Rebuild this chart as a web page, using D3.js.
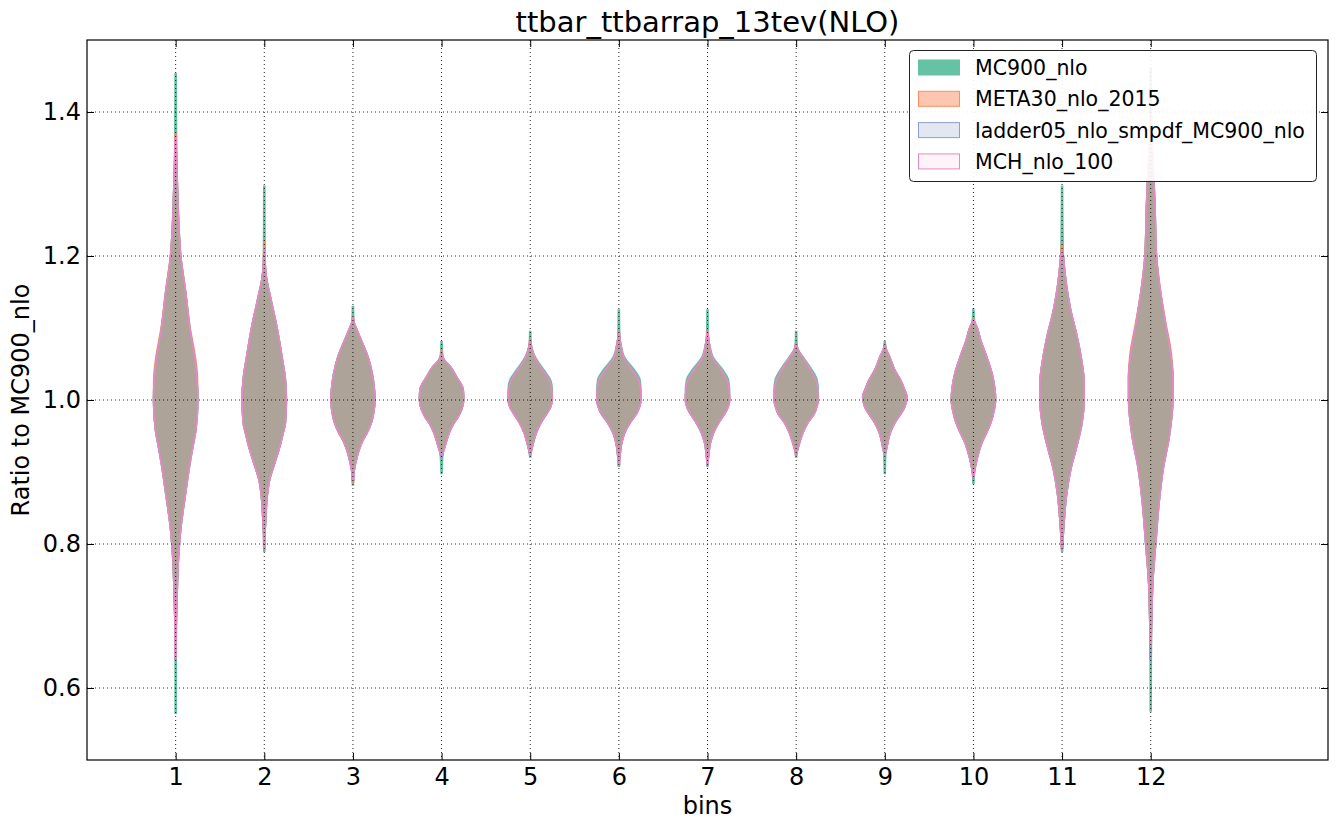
<!DOCTYPE html>
<html>
<head>
<meta charset="utf-8">
<script src="https://cdn.jsdelivr.net/npm/d3@7"></script>
<style>
  html, body { margin: 0; padding: 0; background: #fff; }
  svg { display: block; font-family: "DejaVu Sans", sans-serif; }
</style>
</head>
<body>
<svg id="chart" width="1337" height="830"></svg>
<script>
// ---------------- DATA ----------------
const title = "ttbar_ttbarrap_13tev(NLO)";
const xLabel = "bins";
const yLabel = "Ratio to MC900_nlo";
const bins = [1, 2, 3, 4, 5, 6, 7, 8, 9, 10, 11, 12];
const yTicks = [0.6, 0.8, 1.0, 1.2, 1.4];
const seriesNames = ["MC900_nlo", "META30_nlo_2015", "ladder05_nlo_smpdf_MC900_nlo", "MCH_nlo_100"];
const seriesColors = ["#66c2a5", "#fc8d62", "#8da0cb", "#e78ac3"];
const seriesFillAlpha = [1.0, 0.5, 0.25, 0.1];

// upper / lower extremes of each violin (per series, per bin)
const seriesMax = [
  [1.453, 1.297, 1.130, 1.081, 1.095, 1.125, 1.125, 1.095, 1.081, 1.126, 1.297, 1.461],
  [1.370, 1.220, 1.115, 1.068, 1.083, 1.095, 1.095, 1.078, 1.077, 1.112, 1.215, 1.400],
  [1.350, 1.200, 1.112, 1.065, 1.080, 1.090, 1.090, 1.076, 1.076, 1.111, 1.206, 1.380],
  [1.365, 1.210, 1.113, 1.062, 1.080, 1.093, 1.093, 1.076, 1.076, 1.111, 1.206, 1.375]
];
const seriesMin = [
  [0.565, 0.790, 0.882, 0.898, 0.921, 0.908, 0.908, 0.921, 0.898, 0.884, 0.790, 0.568],
  [0.640, 0.795, 0.886, 0.920, 0.925, 0.910, 0.912, 0.925, 0.925, 0.893, 0.794, 0.640],
  [0.640, 0.800, 0.888, 0.920, 0.925, 0.910, 0.912, 0.925, 0.925, 0.893, 0.794, 0.640],
  [0.642, 0.793, 0.889, 0.925, 0.925, 0.910, 0.910, 0.925, 0.925, 0.893, 0.794, 0.660]
];

// shared violin outline per bin: [value, relative half-width]
const binProfiles = [
  [[1.33,0.05],[1.28,0.1],[1.24,0.15],[1.2,0.23],[1.15,0.45],[1.1,0.64],[1.06,0.85],[1.03,0.96],[1.0,1.0],[0.96,0.92],[0.93,0.75],[0.91,0.64],[0.87,0.45],[0.82,0.23],[0.78,0.13],[0.72,0.06],[0.68,0.03]],
  [[1.19,0.04],[1.17,0.1],[1.14,0.3],[1.1,0.58],[1.06,0.8],[1.03,0.95],[1.0,1.0],[0.97,0.96],[0.95,0.82],[0.935,0.7],[0.91,0.45],[0.89,0.25],[0.865,0.13],[0.83,0.06],[0.81,0.03]],
  [[1.108,0.05],[1.1,0.15],[1.083,0.38],[1.06,0.68],[1.037,0.87],[1.015,0.97],[1.0,1.0],[0.985,0.95],[0.968,0.83],[0.955,0.65],[0.944,0.45],[0.93,0.27],[0.912,0.12],[0.9,0.05]],
  [[1.06,0.06],[1.055,0.14],[1.046,0.41],[1.032,0.68],[1.014,0.98],[1.0,1.0],[0.986,0.9],[0.975,0.72],[0.968,0.56],[0.954,0.34],[0.935,0.15],[0.927,0.07]],
  [[1.076,0.05],[1.07,0.09],[1.06,0.2],[1.042,0.55],[1.028,0.85],[1.012,0.98],[1.0,1.0],[0.99,0.92],[0.981,0.75],[0.968,0.48],[0.954,0.27],[0.94,0.14],[0.93,0.06]],
  [[1.085,0.05],[1.075,0.1],[1.06,0.2],[1.042,0.6],[1.028,0.9],[1.012,0.98],[1.0,1.0],[0.99,0.93],[0.981,0.8],[0.968,0.5],[0.954,0.26],[0.94,0.13],[0.925,0.06],[0.915,0.03]],
  [[1.085,0.05],[1.075,0.1],[1.06,0.21],[1.042,0.6],[1.028,0.88],[1.012,0.98],[1.0,1.0],[0.99,0.93],[0.981,0.78],[0.968,0.5],[0.954,0.27],[0.94,0.13],[0.925,0.06],[0.915,0.03]],
  [[1.074,0.04],[1.068,0.12],[1.06,0.28],[1.042,0.65],[1.028,0.88],[1.012,0.98],[1.0,1.0],[0.99,0.93],[0.981,0.82],[0.968,0.52],[0.954,0.3],[0.94,0.15],[0.93,0.06]],
  [[1.072,0.05],[1.06,0.22],[1.042,0.45],[1.028,0.71],[1.014,0.9],[1.005,1.0],[0.99,0.9],[0.981,0.73],[0.968,0.45],[0.954,0.24],[0.935,0.1],[0.928,0.05]],
  [[1.108,0.06],[1.102,0.15],[1.083,0.33],[1.06,0.6],[1.037,0.84],[1.015,0.97],[1.0,1.0],[0.985,0.93],[0.968,0.78],[0.955,0.6],[0.944,0.43],[0.93,0.27],[0.912,0.12],[0.9,0.05]],
  [[1.2,0.06],[1.18,0.12],[1.157,0.21],[1.125,0.39],[1.088,0.68],[1.056,0.88],[1.023,1.0],[1.0,1.0],[0.968,0.9],[0.935,0.66],[0.903,0.39],[0.87,0.21],[0.833,0.1],[0.81,0.05]],
  [[1.36,0.05],[1.33,0.1],[1.302,0.15],[1.273,0.19],[1.2,0.26],[1.157,0.41],[1.111,0.64],[1.065,0.89],[1.032,1.0],[1.0,1.0],[0.949,0.84],[0.903,0.56],[0.857,0.38],[0.8,0.23],[0.749,0.1],[0.7,0.05],[0.67,0.03]]
];

// series-specific outlines where they visibly differ from the shared one
const mc900Shoulders = {
  5: [[1.076,0.05],[1.07,0.1],[1.06,0.23],[1.042,0.62],[1.028,0.92],[1.015,1.0],[1.0,0.98],[0.99,0.91],[0.981,0.75],[0.968,0.48],[0.954,0.27],[0.94,0.14],[0.93,0.06]],
  6: [[1.085,0.05],[1.075,0.11],[1.06,0.25],[1.042,0.7],[1.028,0.96],[1.012,1.0],[1.0,0.97],[0.99,0.92],[0.981,0.8],[0.968,0.5],[0.954,0.26],[0.94,0.13],[0.925,0.06],[0.915,0.03]],
  7: [[1.085,0.05],[1.075,0.11],[1.06,0.25],[1.042,0.69],[1.028,0.95],[1.012,1.0],[1.0,0.97],[0.99,0.92],[0.981,0.78],[0.968,0.5],[0.954,0.27],[0.94,0.13],[0.925,0.06],[0.915,0.03]],
  8: [[1.074,0.05],[1.068,0.13],[1.06,0.31],[1.042,0.72],[1.028,0.95],[1.014,1.0],[1.0,0.97],[0.99,0.91],[0.981,0.82],[0.968,0.52],[0.954,0.3],[0.94,0.15],[0.93,0.06]]
};
const meta30Flat = {
  1: [[1.33,0.05],[1.28,0.1],[1.24,0.15],[1.2,0.24],[1.15,0.46],[1.1,0.66],[1.06,0.89],[1.03,0.99],[1.0,1.0],[0.96,0.92],[0.93,0.74],[0.91,0.62],[0.87,0.44],[0.82,0.23],[0.78,0.13],[0.72,0.06],[0.68,0.03]],
  12: [[1.36,0.05],[1.33,0.1],[1.302,0.15],[1.273,0.19],[1.2,0.27],[1.157,0.42],[1.111,0.66],[1.065,0.93],[1.032,1.0],[1.0,1.0],[0.949,0.82],[0.903,0.55],[0.857,0.37],[0.8,0.22],[0.749,0.1],[0.7,0.05],[0.67,0.03]]
};
const seriesOverrides = [mc900Shoulders, meta30Flat, {}, {}];
const tailWidth = 0.025;
const violinHalfWidth = 0.25;

// ---------------- LAYOUT ----------------
const svg = d3.select("#chart");
const L = 87, R = 1328, T = 40, B = 760;
const x = d3.scaleLinear().domain([0, 14]).range([L, R]);
const y = d3.scaleLinear().domain([0.5, 1.5]).range([B, T]);

// ---------------- VIOLINS ----------------
const gV = svg.append("g");
seriesNames.forEach((name, si) => {
  const col = d3.color(seriesColors[si]);
  const fill = `rgba(${col.r},${col.g},${col.b},${seriesFillAlpha[si]})`;
  bins.forEach((b, bi) => {
    const prof = seriesOverrides[si][b] || binProfiles[bi];
    const hi = seriesMax[si][bi], lo = seriesMin[si][bi];
    const pts = [[hi, tailWidth]]
      .concat(prof.filter(p => p[0] < hi && p[0] > lo))
      .concat([[lo, tailWidth]]);
    const area = d3.area()
      .y(d => y(d[0]))
      .x0(d => x(b - violinHalfWidth * d[1]))
      .x1(d => x(b + violinHalfWidth * d[1]))
      .curve(d3.curveMonotoneY);
    gV.append("path")
      .attr("d", area(pts))
      .attr("fill", fill)
      .attr("stroke", seriesColors[si])
      .attr("stroke-width", 1.5);
  });
});

// ---------------- GRID ----------------
const gG = svg.append("g").attr("stroke", "#000").attr("stroke-width", 1)
  .attr("stroke-dasharray", "1,3").attr("opacity", 0.85);
yTicks.forEach(t => {
  gG.append("line").attr("x1", L).attr("x2", R).attr("y1", y(t)).attr("y2", y(t));
});
bins.forEach(t => {
  gG.append("line").attr("x1", x(t)).attr("x2", x(t)).attr("y1", T).attr("y2", B);
});

// ---------------- AXES ----------------
const tickLen = -7;
const axB = d3.axisBottom(x).tickValues(bins).tickSize(tickLen).tickPadding(8).tickFormat(d3.format("d"));
const axT = d3.axisTop(x).tickValues(bins).tickSize(tickLen).tickFormat("");
const axL = d3.axisLeft(y).tickValues(yTicks).tickSize(tickLen).tickPadding(6).tickFormat(d3.format(".1f"));
const axR = d3.axisRight(y).tickValues(yTicks).tickSize(tickLen).tickFormat("");
function styleAxis(g) {
  g.attr("font-family", "'DejaVu Sans', sans-serif").attr("font-size", 24);
  g.select(".domain").remove();
  g.selectAll(".tick line").attr("stroke", "#000").attr("stroke-width", 1);
  g.selectAll("text").attr("font-size", "24px").attr("fill", "#000");
}
svg.append("g").attr("transform", `translate(0,${B})`).call(axB).call(styleAxis);
svg.append("g").attr("transform", `translate(0,${T})`).call(axT).call(styleAxis);
svg.append("g").attr("transform", `translate(${L},0)`).call(axL).call(styleAxis);
svg.append("g").attr("transform", `translate(${R},0)`).call(axR).call(styleAxis);

svg.append("rect").attr("x", L).attr("y", T).attr("width", R - L).attr("height", B - T)
  .attr("fill", "none").attr("stroke", "#000").attr("stroke-width", 1.2);

// ---------------- LABELS ----------------
svg.append("text").attr("x", (L + R) / 2).attr("y", 32).attr("text-anchor", "middle")
  .attr("font-size", "29px").text(title);
svg.append("text").attr("x", (L + R) / 2).attr("y", 814).attr("text-anchor", "middle")
  .attr("font-size", "24px").text(xLabel);
svg.append("text").attr("transform", `translate(28.5,${(T + B) / 2}) rotate(-90)`)
  .attr("text-anchor", "middle").attr("font-size", "24px").text(yLabel);

// ---------------- LEGEND ----------------
const lg = svg.append("g");
lg.append("rect").attr("x", 909.5).attr("y", 50.5).attr("width", 407).attr("height", 131)
  .attr("rx", 4).attr("ry", 4)
  .attr("fill", "rgba(255,255,255,0.9)").attr("stroke", "#222").attr("stroke-width", 1);
seriesNames.forEach((name, si) => {
  const cy = 67.5 + si * 31.3;
  const col = d3.color(seriesColors[si]);
  lg.append("rect").attr("x", 918.5).attr("y", cy - 7.5).attr("width", 41).attr("height", 15)
    .attr("fill", `rgba(${col.r},${col.g},${col.b},${seriesFillAlpha[si]})`)
    .attr("stroke", seriesColors[si]).attr("stroke-width", 1);
  lg.append("text").attr("x", 975).attr("y", cy + 7.5).attr("font-size", "20.5px").text(name);
});
</script>
</body>
</html>
